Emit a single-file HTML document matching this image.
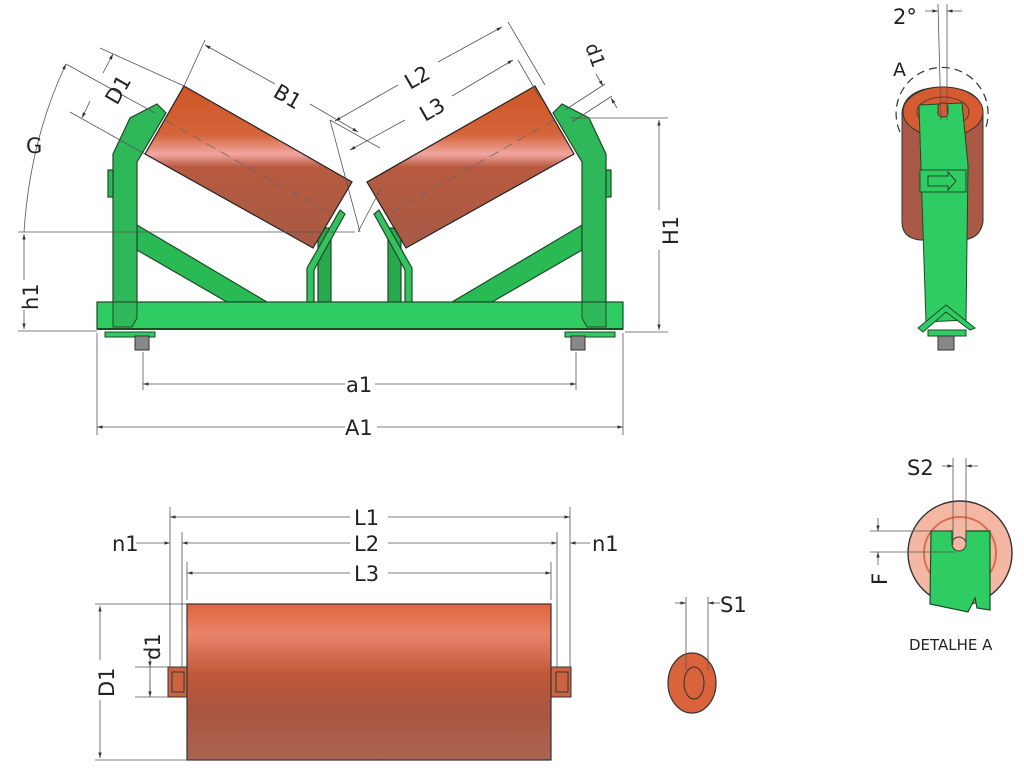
<!DOCTYPE html>
<html><head><meta charset="utf-8"><style>
html,body{margin:0;padding:0;background:#fff;}
svg{display:block;}
text{font-family:"DejaVu Sans","Liberation Sans",sans-serif;fill:#222;}
</style></head><body>
<svg width="1024" height="779" viewBox="0 0 1024 779" xmlns="http://www.w3.org/2000/svg">
<defs>
<linearGradient id="rg" x1="0" y1="0" x2="0" y2="1">
<stop offset="0" stop-color="#cf5526"/><stop offset="0.3" stop-color="#d4643a"/>
<stop offset="0.42" stop-color="#f2a6a0"/><stop offset="0.5" stop-color="#b85a40"/>
<stop offset="1" stop-color="#a65a45"/></linearGradient>
<linearGradient id="rb" x1="0" y1="0" x2="0" y2="1">
<stop offset="0" stop-color="#e0653e"/><stop offset="0.2" stop-color="#e8836a"/>
<stop offset="0.45" stop-color="#c0583a"/><stop offset="0.7" stop-color="#a85640"/>
<stop offset="1" stop-color="#ab6452"/></linearGradient>
<marker id="ar" viewBox="0 0 10 10" refX="10" refY="5" markerWidth="7" markerHeight="7" orient="auto-start-reverse"><path d="M0,2 L10,5 L0,8z" fill="#333"/></marker>
</defs>

<g id="half" stroke="#1d4a26" stroke-width="1.2">
  <polygon points="137,225 137,250 227,302 267,302" fill="#2aba55"/>
  <rect x="318" y="228" width="13" height="75" fill="#28a94d"/>
  <polygon points="184,86 352,182 313,248 145,154" fill="url(#rg)" stroke="#222"/>
  <line x1="165" y1="120" x2="332" y2="215" stroke="#666" stroke-width="0.8" stroke-dasharray="10,6"/>
  <polygon points="113,154 130,118 157,104 166,113 137,162 137,318 132,327 113,327" fill="#2fb85a"/>
  <rect x="108" y="170" width="5" height="27" fill="#2fb85a"/>
  <polygon points="340,210 345,214 314,270 314,323 307,323 307,268" fill="#33c25f"/>
</g>
<use href="#half" transform="translate(719,0) scale(-1,1)"/>
<rect x="97" y="302" width="526" height="27" fill="#2ecc63" stroke="#1d4a26" stroke-width="1.2"/>
<polygon points="113,302 137,302 137,318 132,327 113,327" fill="#2fb85a" stroke="#1d4a26"/>
<polygon points="606,302 582,302 582,318 587,327 606,327" fill="#2fb85a" stroke="#1d4a26"/>
<line x1="97" y1="329" x2="623" y2="329" stroke="#1d4a26" stroke-width="2"/>
<g fill="#2ecc63" stroke="#1d4a26">
<rect x="105" y="332" width="50" height="5"/><rect x="565" y="332" width="50" height="5"/></g>
<g fill="#888" stroke="#333"><rect x="135" y="336" width="14" height="14"/><rect x="571" y="336" width="14" height="14"/></g>

<g stroke="#555" stroke-width="0.8" fill="none">
  <line x1="97" y1="333" x2="97" y2="435"/><line x1="623" y1="333" x2="623" y2="435"/>
  <line x1="143" y1="352" x2="143" y2="390"/><line x1="576" y1="352" x2="576" y2="390"/>
  <line x1="97" y1="427" x2="345" y2="427" marker-start="url(#ar)"/><line x1="377" y1="427" x2="623" y2="427" marker-end="url(#ar)"/>
  <line x1="143" y1="384" x2="345" y2="384" marker-start="url(#ar)"/><line x1="375" y1="384" x2="576" y2="384" marker-end="url(#ar)"/>
  <line x1="18" y1="331" x2="97" y2="331"/><line x1="18" y1="232" x2="355" y2="232"/>
  <line x1="24" y1="234" x2="24" y2="280" marker-start="url(#ar)"/><line x1="24" y1="310" x2="24" y2="329" marker-end="url(#ar)"/>
  <line x1="570" y1="118" x2="668" y2="118"/><line x1="625" y1="332" x2="668" y2="332"/>
  <line x1="659" y1="120" x2="659" y2="210" marker-start="url(#ar)"/><line x1="659" y1="250" x2="659" y2="330" marker-end="url(#ar)"/>
  <path d="M66,64 Q30,140 24,232" marker-start="url(#ar)"/>
  <line x1="66" y1="64" x2="155" y2="113"/>
  <line x1="100" y1="48" x2="184" y2="86"/><line x1="70" y1="112" x2="145" y2="154"/>
  <line x1="113" y1="54" x2="103" y2="73" marker-start="url(#ar)"/><line x1="90" y1="101" x2="82" y2="118" marker-end="url(#ar)"/>
  <line x1="205" y1="40" x2="184" y2="86"/>
  <line x1="205" y1="45" x2="275" y2="84" marker-start="url(#ar)"/>
  <line x1="310" y1="104" x2="358" y2="132" marker-end="url(#ar)"/>
  <line x1="330" y1="120" x2="360" y2="232"/><line x1="358" y1="232" x2="380" y2="190"/>
  <line x1="508" y1="22" x2="545" y2="85"/><line x1="518" y1="60" x2="540" y2="98"/>
  <line x1="335" y1="121" x2="398" y2="85" marker-start="url(#ar)"/><line x1="438" y1="62" x2="502" y2="27" marker-end="url(#ar)"/>
  <line x1="350" y1="150" x2="405" y2="120" marker-start="url(#ar)"/><line x1="452" y1="96" x2="513" y2="60" marker-end="url(#ar)"/>
  <line x1="330" y1="120" x2="380" y2="148"/>
  <line x1="565" y1="110" x2="605" y2="84"/><line x1="572" y1="122" x2="612" y2="96"/>
  <line x1="596" y1="74" x2="603" y2="86" marker-end="url(#ar)"/><line x1="617" y1="108" x2="611" y2="98" marker-end="url(#ar)"/>
</g>
<g font-size="21">
<text x="345" y="435">A1</text>
<text x="346" y="392">a1</text>
<text transform="translate(38,310) rotate(-90)">h1</text>
<text transform="translate(678,245) rotate(-90)">H1</text>
<text x="26" y="153">G</text>
<text transform="translate(117,106) rotate(-60)">D1</text>
<text transform="translate(272,96) rotate(30)">B1</text>
<text transform="translate(410,90) rotate(-30)">L2</text>
<text transform="translate(425,122) rotate(-30)">L3</text>
<text transform="translate(585,46) rotate(70)" font-size="19">d1</text>
</g>

<g>
<path d="M902,112 Q905,88 942,87 Q980,88 983,112 L983,222 Q980,240 960,240 L920,240 Q902,238 902,222Z" fill="#a85a47" stroke="#333"/>
<ellipse cx="943" cy="112" rx="40" ry="25" fill="#d55c30" stroke="#333"/>
<ellipse cx="943" cy="112" rx="26" ry="15" fill="none" stroke="#333" stroke-width="0.8"/>
<path d="M919,105 L962,103 L968,165 L966,320 L926,322 L922,200Z" fill="#2ecc63" stroke="#1d4a26"/>
<rect x="938" y="103" width="10" height="14" rx="4" fill="#d55c30" stroke="#333"/>
<rect x="920" y="170" width="46" height="22" fill="#2ecc63" stroke="#1d4a26"/>
<path d="M928,176 L948,176 L948,172 L956,181 L948,190 L948,186 L928,186Z" fill="#2ecc63" stroke="#1d4a26"/>
<path d="M918,328 L946,305 L975,328 L970,330 L946,312 L923,332Z" fill="#2ecc63" stroke="#1d4a26"/>
<rect x="928" y="330" width="38" height="6" fill="#2ecc63" stroke="#1d4a26"/>
<rect x="938" y="336" width="16" height="14" fill="#888" stroke="#333"/>
<path d="M900,132 A46,46 0 1 1 985,130" fill="none" stroke="#333" stroke-width="1.2" stroke-dasharray="8,5"/>
<g stroke="#555" stroke-width="0.8"><line x1="938" y1="4" x2="941" y2="120"/><line x1="947" y1="4" x2="947" y2="120"/>
<line x1="925" y1="11" x2="938" y2="11" marker-end="url(#ar)"/><line x1="962" y1="11" x2="947" y2="11" marker-end="url(#ar)"/></g>
<text x="893" y="24" font-size="21">2°</text>
<text x="893" y="76" font-size="19">A</text>
</g>

<rect x="168" y="667" width="21" height="30" fill="#cc6340" stroke="#333"/>
<rect x="172" y="672" width="12" height="20" fill="none" stroke="#333"/>
<rect x="550" y="667" width="21" height="30" fill="#cc6340" stroke="#333"/>
<rect x="556" y="672" width="12" height="20" fill="none" stroke="#333"/>
<rect x="187" y="604" width="364" height="156" fill="url(#rb)" stroke="#333" stroke-width="1.2"/>
<g stroke="#555" stroke-width="0.8" fill="none">
<line x1="170" y1="507" x2="170" y2="667"/><line x1="570" y1="507" x2="570" y2="667"/>
<line x1="182" y1="532" x2="182" y2="667"/><line x1="557" y1="532" x2="557" y2="667"/>
<line x1="187" y1="562" x2="187" y2="600"/><line x1="551" y1="562" x2="551" y2="600"/>
<line x1="170" y1="517" x2="350" y2="517" marker-start="url(#ar)"/><line x1="388" y1="517" x2="570" y2="517" marker-end="url(#ar)"/>
<line x1="182" y1="543" x2="350" y2="543" marker-start="url(#ar)"/><line x1="388" y1="543" x2="557" y2="543" marker-end="url(#ar)"/>
<line x1="187" y1="573" x2="350" y2="573" marker-start="url(#ar)"/><line x1="388" y1="573" x2="551" y2="573" marker-end="url(#ar)"/>
<line x1="136" y1="543" x2="170" y2="543" marker-end="url(#ar)"/><line x1="590" y1="543" x2="570" y2="543" marker-end="url(#ar)"/>
<line x1="95" y1="604" x2="187" y2="604"/><line x1="95" y1="760" x2="187" y2="760"/>
<line x1="100" y1="606" x2="100" y2="660" marker-start="url(#ar)"/><line x1="100" y1="700" x2="100" y2="758" marker-end="url(#ar)"/>
<line x1="135" y1="667" x2="168" y2="667"/><line x1="135" y1="697" x2="168" y2="697"/>
<line x1="150" y1="650" x2="150" y2="667" marker-end="url(#ar)"/><line x1="150" y1="697" x2="150" y2="667"/><line x1="150" y1="680" x2="150" y2="697" marker-end="url(#ar)"/>
</g>
<g font-size="21">
<text x="354" y="525">L1</text><text x="354" y="551">L2</text><text x="354" y="581">L3</text>
<text x="112" y="551">n1</text><text x="592" y="551">n1</text>
<text transform="translate(114,697) rotate(-90)">D1</text>
<text transform="translate(160,660) rotate(-90)">d1</text>
</g>

<ellipse cx="692" cy="683" rx="24" ry="30" fill="#d9633a" stroke="#333" stroke-width="1.2"/>
<ellipse cx="694" cy="683" rx="10" ry="16" fill="none" stroke="#333"/>
<g stroke="#555" stroke-width="0.8"><line x1="686" y1="597" x2="686" y2="670"/><line x1="708" y1="597" x2="708" y2="670"/>
<line x1="675" y1="603" x2="686" y2="603" marker-end="url(#ar)"/><line x1="720" y1="603" x2="708" y2="603" marker-end="url(#ar)"/></g>
<text x="720" y="612" font-size="21">S1</text>

<circle cx="960" cy="553" r="52" fill="#f4b7a4" stroke="#333" stroke-width="1.4"/>
<circle cx="960" cy="553" r="36" fill="none" stroke="#d8704e" stroke-width="2"/>
<path d="M931,531 L952,531 L952,540 A7,7 0 0 0 966,540 L966,531 L990,531 L990,610 L977,608 L975,598 L968,612 L930,604Z" fill="#2ecc63" stroke="#1d4a26" stroke-width="1.2"/>
<circle cx="959" cy="544" r="7" fill="#f4b7a4" stroke="#333"/>
<g stroke="#555" stroke-width="0.8"><line x1="953" y1="458" x2="953" y2="545"/><line x1="966" y1="458" x2="966" y2="545"/>
<line x1="942" y1="466" x2="953" y2="466" marker-end="url(#ar)"/><line x1="978" y1="466" x2="966" y2="466" marker-end="url(#ar)"/>
<line x1="870" y1="531" x2="950" y2="531"/><line x1="870" y1="552" x2="955" y2="552"/>
<line x1="878" y1="518" x2="878" y2="531" marker-end="url(#ar)"/><line x1="878" y1="565" x2="878" y2="552" marker-end="url(#ar)"/></g>
<text x="907" y="475" font-size="21">S2</text>
<text transform="translate(887,585) rotate(-90)" font-size="21">F</text>
<text x="909" y="650" font-size="15">DETALHE  A</text>
</svg>
</body></html>
